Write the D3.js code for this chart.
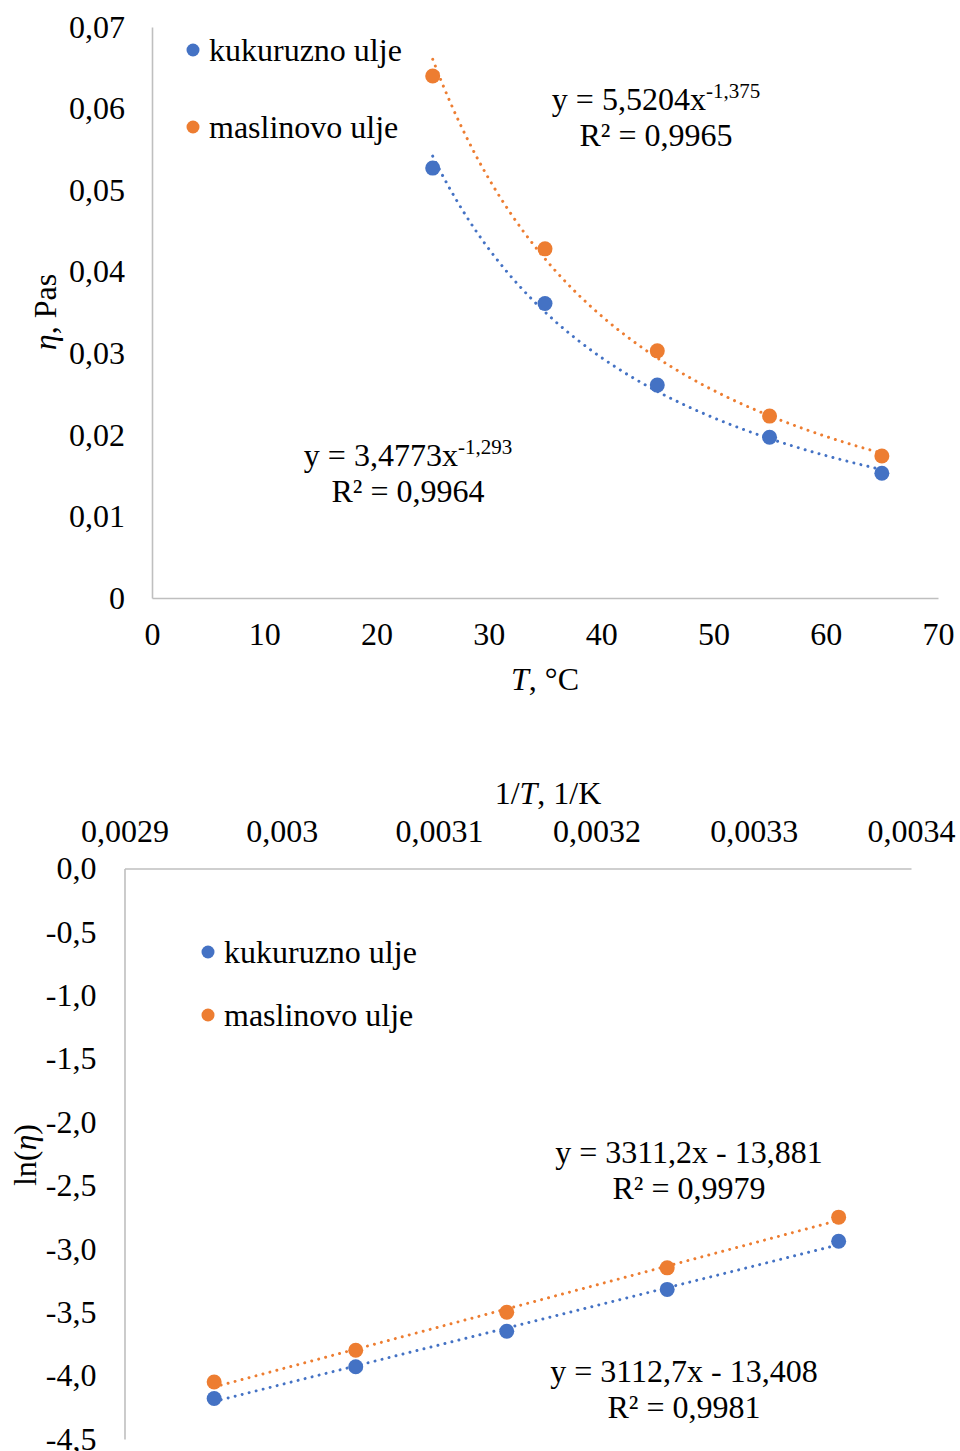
<!DOCTYPE html>
<html>
<head>
<meta charset="utf-8">
<script src="https://cdn.jsdelivr.net/npm/d3@7"></script>
<style>
  html, body { margin: 0; padding: 0; background: #fff; }
  svg { display: block; font-family: "Liberation Serif", "Times New Roman", serif; }
</style>
</head>
<body>
<svg id="chart" width="960" height="1451"></svg>
<script>
// ---------- DATA ----------
const seriesNames = ["kukuruzno ulje", "maslinovo ulje"];
const seriesColors = ["#4472C4", "#ED7D31"];

// Chart 1: viscosity vs temperature
const temperatureC = [25, 35, 45, 55, 65];
const etaCorn = [0.0527, 0.0361, 0.0261, 0.0197, 0.0153];
const etaOlive = [0.0640, 0.0428, 0.0303, 0.0223, 0.0174];
const powerFitCorn = { a: 3.4773, b: -1.293 };
const powerFitOlive = { a: 5.5204, b: -1.375 };
const xTicks1 = [0, 10, 20, 30, 40, 50, 60, 70];
const yTicks1 = [0, 0.01, 0.02, 0.03, 0.04, 0.05, 0.06, 0.07];

// Chart 2: ln(eta) vs 1/T
const invT = [0.002957, 0.003047, 0.003143, 0.003245, 0.003354];
const lnEtaCorn = [-4.18, -3.93, -3.65, -3.32, -2.94];
const lnEtaOlive = [-4.05, -3.80, -3.50, -3.15, -2.75];
const linFitCorn = { m: 3112.7, c: -13.408 };
const linFitOlive = { m: 3311.2, c: -13.881 };
const xTicks2 = [0.0029, 0.0030, 0.0031, 0.0032, 0.0033, 0.0034];
const yTicks2 = [0, -0.5, -1.0, -1.5, -2.0, -2.5, -3.0, -3.5, -4.0, -4.5];

// ---------- SETUP ----------
const svg = d3.select("#chart");
const FS = 32;
const AXIS_COLOR = "#BFBFBF";
const dotDash = "0.01 7.2";
const comma = s => String(s).replace(".", ",");

function styleAxis(g) {
  g.select(".domain").attr("stroke", AXIS_COLOR).attr("stroke-width", 1.6);
  g.selectAll(".tick line").remove();
  g.selectAll(".tick text").attr("font-size", FS).attr("fill", "#000")
    .attr("font-family", "Liberation Serif, Times New Roman, serif");
}

function legend(x, y, gap) {
  const g = svg.append("g");
  seriesNames.forEach((n, i) => {
    g.append("circle").attr("cx", x).attr("cy", y + i * gap).attr("r", 6.5).attr("fill", seriesColors[i]);
    g.append("text").attr("x", x + 16).attr("y", y + i * gap).attr("dy", "0.33em")
      .attr("font-size", FS).text(n);
  });
}

function eqLabel(cx, y, main, sup, r2) {
  const t = svg.append("text").attr("x", cx).attr("y", y).attr("text-anchor", "middle").attr("font-size", FS);
  t.append("tspan").text(main);
  if (sup) t.append("tspan").attr("font-size", 21).attr("dy", -12).text(sup);
  svg.append("text").attr("x", cx).attr("y", y + 36).attr("text-anchor", "middle").attr("font-size", FS).text(r2);
}

// ---------- CHART 1 ----------
const x1 = d3.scaleLinear().domain([0, 70]).range([152, 938]);
const y1 = d3.scaleLinear().domain([0, 0.07]).range([598, 27]);

svg.append("g").attr("transform", `translate(0,${y1(0)})`)
  .call(d3.axisBottom(x1).tickValues(xTicks1).tickSize(0).tickSizeOuter(0).tickPadding(24).tickFormat(d => comma(d)))
  .call(styleAxis);
svg.append("g").attr("transform", `translate(${x1(0)},0)`)
  .call(d3.axisLeft(y1).tickValues(yTicks1).tickSize(0).tickSizeOuter(0).tickPadding(27).tickFormat(d => comma(+d.toFixed(2))))
  .call(styleAxis);

const data1 = [etaCorn, etaOlive];
const fits1 = [powerFitCorn, powerFitOlive];
const tSamples = d3.range(25, 65.01, 0.5);
fits1.forEach((f, i) => {
  const line = d3.line().x(d => x1(d)).y(d => y1(f.a * Math.pow(d, f.b)));
  svg.append("path").attr("d", line(tSamples)).attr("fill", "none")
    .attr("stroke", seriesColors[i]).attr("stroke-width", 3)
    .attr("stroke-linecap", "round").attr("stroke-dasharray", dotDash);
});
data1.forEach((vals, i) => {
  svg.append("g").selectAll("circle").data(vals).join("circle")
    .attr("cx", (d, j) => x1(temperatureC[j])).attr("cy", d => y1(d))
    .attr("r", 7.5).attr("fill", seriesColors[i]);
});

legend(193, 50, 77);
eqLabel(656, 110, "y = 5,5204x", "-1,375", "R² = 0,9965");
eqLabel(408, 466, "y = 3,4773x", "-1,293", "R² = 0,9964");

// axis titles chart 1
const tt1 = svg.append("text").attr("x", 545).attr("y", 690).attr("text-anchor", "middle").attr("font-size", FS);
tt1.append("tspan").attr("font-style", "italic").text("T");
tt1.append("tspan").text(", °C");
const yt1 = svg.append("text").attr("transform", "translate(56,312) rotate(-90)").attr("text-anchor", "middle").attr("font-size", FS);
yt1.append("tspan").attr("font-style", "italic").text("η");
yt1.append("tspan").text(", Pas");

// ---------- CHART 2 ----------
const x2 = d3.scaleLinear().domain([0.0029, 0.0034]).range([124.5, 911]);
const y2 = d3.scaleLinear().domain([0, -4.5]).range([868.5, 1439]);

svg.append("g").attr("transform", `translate(0,${y2(0)})`)
  .call(d3.axisTop(x2).tickValues(xTicks2).tickSize(0).tickSizeOuter(0).tickPadding(27).tickFormat(d => comma(+d.toFixed(4))))
  .call(styleAxis);
svg.append("g").attr("transform", `translate(${x2(0.0029)},0)`)
  .call(d3.axisLeft(y2).tickValues(yTicks2).tickSize(0).tickSizeOuter(0).tickPadding(28).tickFormat(d => comma(d.toFixed(1)).replace("−", "-")))
  .call(styleAxis);

const data2 = [lnEtaCorn, lnEtaOlive];
const fits2 = [linFitCorn, linFitOlive];
const xr = d3.extent(invT);
fits2.forEach((f, i) => {
  const line = d3.line().x(d => x2(d)).y(d => y2(f.m * d + f.c));
  svg.append("path").attr("d", line(xr)).attr("fill", "none")
    .attr("stroke", seriesColors[i]).attr("stroke-width", 3)
    .attr("stroke-linecap", "round").attr("stroke-dasharray", dotDash);
});
data2.forEach((vals, i) => {
  svg.append("g").selectAll("circle").data(vals).join("circle")
    .attr("cx", (d, j) => x2(invT[j])).attr("cy", d => y2(d))
    .attr("r", 7.5).attr("fill", seriesColors[i]);
});

legend(208, 952, 63);
eqLabel(689, 1163, "y = 3311,2x - 13,881", null, "R² = 0,9979");
eqLabel(684, 1382, "y = 3112,7x - 13,408", null, "R² = 0,9981");

const tt2 = svg.append("text").attr("x", 548).attr("y", 804).attr("text-anchor", "middle").attr("font-size", FS);
tt2.append("tspan").text("1/");
tt2.append("tspan").attr("font-style", "italic").text("T");
tt2.append("tspan").text(", 1/K");
const yt2 = svg.append("text").attr("transform", "translate(36,1155) rotate(-90)").attr("text-anchor", "middle").attr("font-size", FS);
yt2.append("tspan").text("ln(");
yt2.append("tspan").attr("font-style", "italic").text("η");
yt2.append("tspan").text(")");
</script>
</body>
</html>
